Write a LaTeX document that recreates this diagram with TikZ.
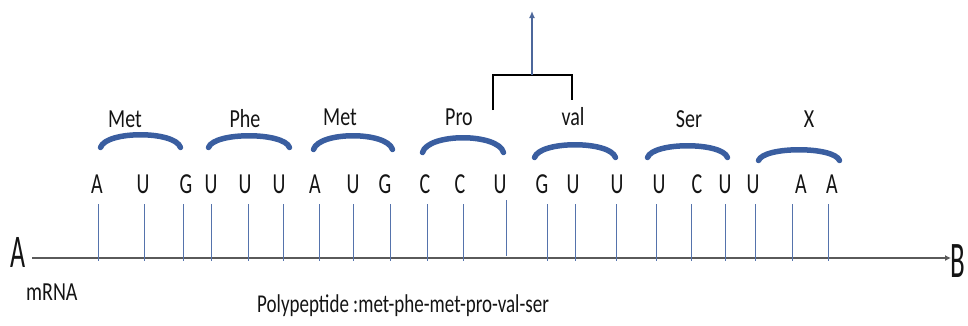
\documentclass[tikz,border=0pt]{standalone}
\usepackage{fontspec}
\usepackage{graphicx}
\setmainfont{Carlito}
\usetikzlibrary{arrows.meta}
\definecolor{tickblue}{RGB}{85,115,172}
\definecolor{arcblue}{RGB}{58,94,160}
\definecolor{axisgray}{RGB}{90,90,90}
\definecolor{txt}{RGB}{20,20,20}
\newcommand{\stretchtxt}[2]{\scalebox{1}[#1]{#2}}
\tikzset{
  base/.style={inner sep=0pt, anchor=base, text=txt, font=\fontsize{20}{20}\selectfont},
  nuc/.style={base},
  aalabel/.style={base},
  tickline/.style={draw=tickblue, line width=0.9pt},
  arcshape/.style={draw=arcblue, line width=5.5pt, line cap=round},
  mainline/.style={draw=axisgray, line width=1.8pt, -{Latex[length=6pt,width=6pt]}},
  bracketline/.style={draw=black, line width=2.2pt},
  uparrow/.style={draw=tickblue!90!black, line width=1.8pt, -{Latex[length=7pt,width=6pt]}},
}
\begin{document}
\begin{tikzpicture}[x=1pt,y=-1pt]
\useasboundingbox (0,0) rectangle (968,325);
% end letters
\node[base, font=\fontsize{26}{26}\selectfont] (A) at (18,267) {\stretchtxt{1.8}{A}};
\node[base, font=\fontsize{27}{27}\selectfont] (B) at (958,277) {\stretchtxt{1.9}{B}};
\node[base, anchor=base west] (mrna) at (26,300) {\stretchtxt{1.3}{mRNA}};
\node[base, anchor=base west, font=\fontsize{19}{19}\selectfont] (poly) at (257,312) {\stretchtxt{1.35}{Polypeptide :met-phe-met-pro-val-ser}};
% main line
\coordinate (mainL) at (32,258);
\coordinate (mainR) at (951,258);
\draw[mainline] (mainL) -- (mainR);
% ticks
\foreach \x [count=\i] in {98,144,183,211,248,283,319,353,390,427,463,547,575,616,656,691,725,755,792,828}{
  \coordinate (t\i top) at (\x,204);
  \coordinate (t\i bot) at (\x,261);
  \draw[tickline] (t\i top) -- (t\i bot);
}
\coordinate (tUtop) at (506,200);
\coordinate (tUbot) at (506,256);
\draw[tickline] (tUtop) -- (tUbot);
% nucleotides
\foreach \x/\l [count=\i] in {97/A,143/U,186/G,211/U,245/U,279/U,315/A,353/U,385/G,425/C,460/C,500/U,542/G,573/U,617/U,659/U,697/C,725/U,753/U,801/A,832/A}{
  \node[nuc] (n\i) at (\x,193) {\stretchtxt{1.45}{\l}};
}
% codon arcs
\foreach \xa/\xb/\yt/\ye in {98/183/132/150,206/292/133/150,311/395/133/152,420/506/135/155,532/618/142/160,645/730/143/160,756/842/147/163}{
  \pgfmathsetmacro\yc{(\yt+2.75-0.25*(\ye-2.5))/0.75}
  \draw[arcshape] (\xa+2.5,\ye-2.5) .. controls (\xa+8,\yc) and (\xb-8,\yc) .. (\xb-2.5,\ye-2.5);
}
% amino acid labels
\node[aalabel] (met1) at (125,127) {\stretchtxt{1.3}{Met}};
\node[aalabel] (phe) at (245,127) {\stretchtxt{1.3}{Phe}};
\node[aalabel] (met2) at (340,125) {\stretchtxt{1.3}{Met}};
\node[aalabel] (pro) at (459,125) {\stretchtxt{1.3}{Pro}};
\node[aalabel] (val) at (573,125) {\stretchtxt{1.3}{val}};
\node[aalabel] (ser) at (689,127) {\stretchtxt{1.3}{Ser}};
\node[aalabel] (xaa) at (809,127) {\stretchtxt{1.3}{X}};
% bracket and arrow
\coordinate (brL) at (493,110);
\coordinate (brLt) at (493,75);
\coordinate (brRt) at (572,75);
\coordinate (brR) at (572,100);
\coordinate (brMid) at (532,75);
\coordinate (arrTop) at (532,11);
\draw[bracketline] (brL) -- (brLt) -- (brRt) -- (brR);
\draw[uparrow] (brMid) -- (arrTop);
\end{tikzpicture}
\end{document}
